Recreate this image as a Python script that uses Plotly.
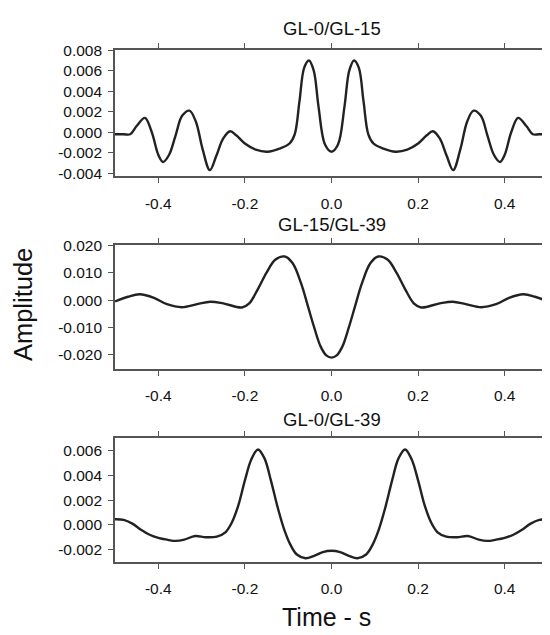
import plotly.graph_objects as go
from plotly.subplots import make_subplots

# ---- data ----
titles = ["GL-0/GL-15", "GL-15/GL-39", "GL-0/GL-39"]

t1 = [-0.50, -0.48, -0.465, -0.45, -0.431, -0.415, -0.40, -0.389, -0.375, -0.36, -0.345, -0.328, -0.313, -0.298,
      -0.281, -0.266, -0.25, -0.234, -0.22, -0.20, -0.175, -0.148, -0.12, -0.097, -0.085, -0.074, -0.063, -0.052,
      -0.041, -0.03, -0.015, 0.0,
      0.015, 0.03, 0.041, 0.052, 0.063, 0.074, 0.085, 0.097, 0.12, 0.148, 0.175, 0.20, 0.22, 0.234, 0.25, 0.266,
      0.281, 0.298, 0.313, 0.328, 0.345, 0.36, 0.375, 0.389, 0.40, 0.415, 0.431, 0.45, 0.465, 0.48, 0.50]
a1 = [-0.0002, -0.0002, -0.0002, 0.0006, 0.0014, 0.0000, -0.0022, -0.0029, -0.0022, -0.0003, 0.0016, 0.0021, 0.0010, -0.0016,
      -0.0037, -0.0023, -0.0006, 0.0001, -0.0003, -0.0011, -0.0017, -0.0019, -0.0016, -0.0011, -0.0002, 0.0030, 0.0063, 0.0070,
      0.0060, 0.0025, -0.0012, -0.0019,
      -0.0012, 0.0025, 0.0060, 0.0070, 0.0063, 0.0030, -0.0002, -0.0011, -0.0016, -0.0019, -0.0017, -0.0011, -0.0003, 0.0001,
      -0.0006, -0.0023, -0.0037, -0.0016, 0.0010, 0.0021, 0.0016, -0.0003, -0.0022, -0.0029, -0.0022, 0.0000, 0.0014, 0.0006,
      -0.0002, -0.0002, -0.0002]

t2 = [-0.50, -0.47, -0.443, -0.41, -0.38, -0.346, -0.31, -0.28, -0.25, -0.207, -0.19, -0.17, -0.15, -0.13, -0.108,
      -0.09, -0.07, -0.054, -0.04, -0.025, -0.012, 0.0,
      0.012, 0.025, 0.04, 0.054, 0.07, 0.09, 0.108, 0.13, 0.15, 0.17, 0.19, 0.207, 0.25, 0.28, 0.31, 0.346, 0.38,
      0.41, 0.443, 0.47, 0.50]
a2 = [-0.0005, 0.0012, 0.0021, 0.0008, -0.0015, -0.0026, -0.0015, -0.0006, -0.0012, -0.0027, -0.0012, 0.0040, 0.0100, 0.0147, 0.0159,
      0.0135, 0.0060, -0.0025, -0.0100, -0.0170, -0.0202, -0.0210,
      -0.0202, -0.0170, -0.0100, -0.0025, 0.0060, 0.0135, 0.0159, 0.0147, 0.0100, 0.0040, -0.0012, -0.0027, -0.0012, -0.0006, -0.0015, -0.0026, -0.0015,
      0.0008, 0.0021, 0.0012, -0.0005]

t3 = [-0.50, -0.48, -0.46, -0.44, -0.42, -0.40, -0.38, -0.36, -0.34, -0.315, -0.29, -0.265, -0.245, -0.23, -0.215,
      -0.20, -0.185, -0.17, -0.155, -0.14, -0.125, -0.11, -0.095, -0.08, -0.06, -0.04, -0.02, 0.0,
      0.02, 0.04, 0.06, 0.08, 0.095, 0.11, 0.125, 0.14, 0.155, 0.17, 0.185, 0.20, 0.215, 0.23, 0.245, 0.265, 0.29,
      0.315, 0.34, 0.36, 0.38, 0.40, 0.42, 0.44, 0.46, 0.48, 0.50]
a3 = [0.00045, 0.0004, 0.0001, -0.0004, -0.0008, -0.00105, -0.0012, -0.0013, -0.0012, -0.0009, -0.0010, -0.00095, -0.0006, 0.0002, 0.0016,
      0.0036, 0.0053, 0.0061, 0.0054, 0.0036, 0.0015, -0.0003, -0.0016, -0.0024, -0.0027, -0.0025, -0.0022, -0.0021,
      -0.0022, -0.0025, -0.0027, -0.0024, -0.0016, -0.0003, 0.0015, 0.0036, 0.0054, 0.0061, 0.0053, 0.0036, 0.0016, 0.0002, -0.0006, -0.00095, -0.0010,
      -0.0009, -0.0012, -0.0013, -0.0012, -0.00105, -0.0008, -0.0004, 0.0001, 0.0004, 0.00045]

x_ticks = [-0.4, -0.2, 0.0, 0.2, 0.4]
x_tick_text = ["-0.4", "-0.2", "0.0", "0.2", "0.4"]
y1_ticks = [-0.004, -0.002, 0.0, 0.002, 0.004, 0.006, 0.008]
y1_text = ["-0.004", "-0.002", "0.000", "0.002", "0.004", "0.006", "0.008"]
y2_ticks = [-0.02, -0.01, 0.0, 0.01, 0.02]
y2_text = ["-0.020", "-0.010", "0.000", "0.010", "0.020"]
y3_ticks = [-0.002, 0.0, 0.002, 0.004, 0.006]
y3_text = ["-0.002", "0.000", "0.002", "0.004", "0.006"]

# ---- figure ----
OFF = 8                      # page body margin of the html page
W, H = 550 - OFF, 635 - OFF
FONT = "Liberation Sans, Arial, sans-serif"

fig = make_subplots(rows=3, cols=1)
series = [(t1, a1), (t2, a2), (t3, a3)]
for i, (t, a) in enumerate(series, start=1):
    fig.add_trace(go.Scatter(x=t, y=a, mode="lines",
                             line=dict(color="#222222", width=2.4, shape="spline", smoothing=1.0),
                             showlegend=False, hoverinfo="skip"), row=i, col=1)

def ypix(p):
    return 1 - (p - OFF) / H

L = 115 - OFF
PW = W - L - 1

def xpix(p):
    return (p - OFF - L) / PW

domains = [(42.7, 171.7), (241.7, 368.3), (438.5, 565.5)]
yranges = [[-0.0043, 0.00802], [-0.0251, 0.02015], [-0.0030, 0.00706]]
yt = [(y1_ticks, y1_text), (y2_ticks, y2_text), (y3_ticks, y3_text)]

tickfont = dict(family=FONT, size=15.5, color="#111111")
for i in range(3):
    top, bot = domains[i]
    xa = "xaxis" if i == 0 else f"xaxis{i+1}"
    ya = "yaxis" if i == 0 else f"yaxis{i+1}"
    fig.layout[xa].update(domain=[0, 1], range=[-0.5, 0.5], tickvals=x_ticks, ticktext=x_tick_text,
                          ticks="outside", ticklen=5, tickwidth=1.3, tickcolor="#555555",
                          showline=True, linecolor="#555555", linewidth=1.6, mirror="ticks",
                          showgrid=False, zeroline=False, tickfont=tickfont, ticklabelstandoff=7)
    fig.layout[ya].update(domain=[ypix(bot), ypix(top)], range=yranges[i], tickvals=yt[i][0], ticktext=yt[i][1],
                          ticks="outside", ticklen=5, tickwidth=1.3, tickcolor="#555555",
                          showline=True, linecolor="#555555", linewidth=1.6, mirror=True,
                          showgrid=False, zeroline=False, tickfont=tickfont, ticklabelstandoff=3)

title_y = [21.0, 220.5, 420.0]
annotations = []
for i in range(3):
    annotations.append(dict(text=titles[i], x=xpix(332), y=ypix(title_y[i]), xref="paper", yref="paper",
                            xanchor="center", yanchor="middle", showarrow=False,
                            font=dict(family=FONT, size=18.5, color="#111111")))
annotations.append(dict(text="Amplitude", x=xpix(23), y=ypix(303), xref="paper", yref="paper",
                        xanchor="center", yanchor="middle", showarrow=False, textangle=-90,
                        font=dict(family=FONT, size=25.5, color="#111111")))
annotations.append(dict(text="Time - s", x=xpix(327), y=ypix(622), xref="paper", yref="paper",
                        xanchor="center", yanchor="middle", showarrow=False,
                        font=dict(family=FONT, size=25, color="#111111")))

fig.update_layout(width=W, height=H, margin=dict(l=L, r=1, t=0, b=0, pad=0),
                  paper_bgcolor="white", plot_bgcolor="white", annotations=annotations)

fig.write_html("out.html")
